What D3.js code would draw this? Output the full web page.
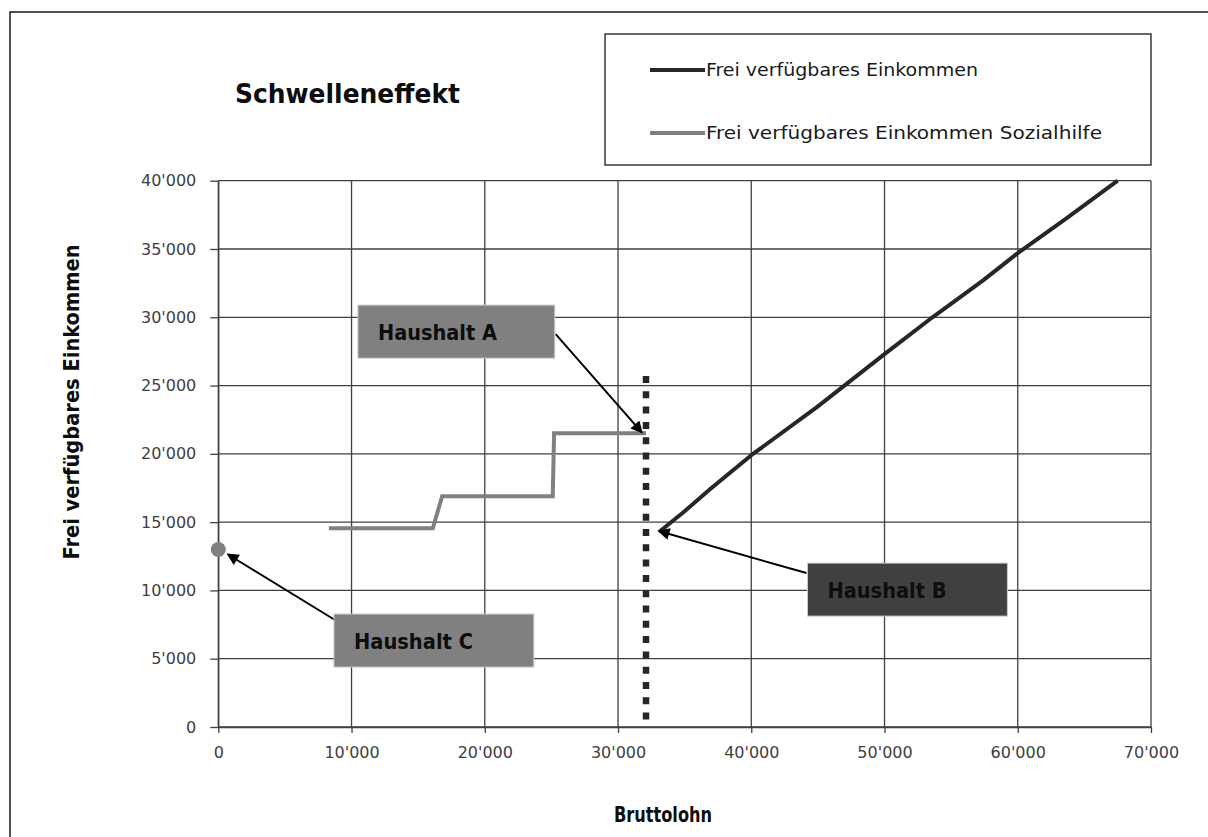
<!DOCTYPE html>
<html>
<head>
<meta charset="utf-8">
<script src="https://cdn.jsdelivr.net/npm/d3@7"></script>
<style>
    body { margin: 0; background: #fff; }
    text { font-family: "DejaVu Sans Condensed", "DejaVu Sans", sans-serif; }
</style>
</head>
<body>
<svg id="Chart"></svg>
<script>
// Bruttolohn / frei verfuegbares Einkommen (Sozialhilfe)
let socialX = [8300, 16100, 16800, 25100, 25200, 32100];
let socialY = [14550, 14550, 16900, 16900, 21500, 21500];

// Bruttolohn / frei verfuegbares Einkommen
let incomeX = [33100, 35000, 36900, 40000, 44900, 50000, 53600, 57400, 60000, 63600, 67500];
let incomeY = [14300, 15800, 17400, 19900, 23400, 27300, 30000, 32700, 34700, 37200, 40000];

let thresholdX = 32100;
let thresholdTop = 25700;
let householdC = { x: 0, y: 13000 };

let xTicks = [0, 10000, 20000, 30000, 40000, 50000, 60000, 70000];
let yTicks = [0, 5000, 10000, 15000, 20000, 25000, 30000, 35000, 40000];

let legendLabels = ["Frei verfügbares Einkommen", "Frei verfügbares Einkommen Sozialhilfe"];
let legendColors = ["#262626", "#808080"];

function getConfig() {
    let width = 1208;
    let height = 837;
    let margin = { top: 180.7, bottom: 110, left: 218.3, right: 57 };
    let bodyWidth = width - margin.left - margin.right;
    let bodyHeight = height - margin.top - margin.bottom;
    let container = d3.select("#Chart")
        .attr("width", width)
        .attr("height", height);
    return { width, height, margin, bodyWidth, bodyHeight, container };
}

function getScales(config) {
    let { margin, width, height } = config;
    let xScale = d3.scaleLinear()
        .domain([0, 70000])
        .range([margin.left, width - margin.right]);
    let yScale = d3.scaleLinear()
        .domain([0, 40000])
        .range([height - margin.bottom, margin.top]);
    return { xScale, yScale };
}

let fmt = v => d3.format(",")(v).replace(/,/g, "'");

function drawFrame(config) {
    config.container.append("rect")
        .attr("x", 10).attr("y", 12)
        .attr("width", 1400).attr("height", 1000)
        .attr("fill", "#fff")
        .attr("stroke", "#1a1a1a")
        .attr("stroke-width", 1.5);
}

function drawGrid(scales, config) {
    let { xScale, yScale } = scales;
    let { container } = config;
    let grid = container.append("g");
    grid.selectAll(".hgrid").data(yTicks).enter().append("line")
        .attr("x1", xScale(0)).attr("x2", xScale(70000))
        .attr("y1", d => yScale(d)).attr("y2", d => yScale(d))
        .attr("stroke", "#404040").attr("stroke-width", 1.3);
    grid.selectAll(".vgrid").data(xTicks).enter().append("line")
        .attr("y1", yScale(0)).attr("y2", yScale(40000))
        .attr("x1", d => xScale(d)).attr("x2", d => xScale(d))
        .attr("stroke", "#404040").attr("stroke-width", 1.3);
}

function drawAxes(scales, config) {
    let { xScale, yScale } = scales;
    let { container } = config;

    let axisX = d3.axisBottom(xScale)
        .tickValues(xTicks)
        .tickFormat(fmt)
        .tickSizeInner(6)
        .tickSizeOuter(0)
        .tickPadding(14);
    let gx = container.append("g")
        .attr("transform", `translate(0,${yScale(0)})`)
        .call(axisX);

    let axisY = d3.axisLeft(yScale)
        .tickValues(yTicks)
        .tickFormat(fmt)
        .tickSizeInner(8)
        .tickSizeOuter(0)
        .tickPadding(14);
    let gy = container.append("g")
        .attr("transform", `translate(${xScale(0)},0)`)
        .call(axisY);

    [gx, gy].forEach(g => {
        g.select(".domain").attr("stroke", "#404040").attr("stroke-width", 1.3);
        g.selectAll(".tick line").attr("stroke", "#404040").attr("stroke-width", 1.3);
        g.selectAll(".tick text")
            .attr("fill", "#404040")
            .style("font-family", "'DejaVu Sans', sans-serif")
            .style("font-size", "16px");
    });
}

function drawSeries(scales, config) {
    let { xScale, yScale } = scales;
    let { container } = config;
    let line = d3.line().x(d => xScale(d[0])).y(d => yScale(d[1]));

    // Schwelle
    container.append("line")
        .attr("x1", xScale(thresholdX)).attr("x2", xScale(thresholdX))
        .attr("y1", yScale(thresholdTop)).attr("y2", yScale(0))
        .attr("stroke", "#262626")
        .attr("stroke-width", 6.5)
        .attr("stroke-dasharray", "7,8.3");

    container.append("path")
        .datum(d3.zip(socialX, socialY))
        .attr("d", line)
        .attr("fill", "none")
        .attr("stroke", "#808080")
        .attr("stroke-width", 4);

    container.append("path")
        .datum(d3.zip(incomeX, incomeY))
        .attr("d", line)
        .attr("fill", "none")
        .attr("stroke", "#262626")
        .attr("stroke-width", 4)
        .attr("stroke-linejoin", "round");

    container.append("circle")
        .attr("cx", xScale(householdC.x))
        .attr("cy", yScale(householdC.y))
        .attr("r", 7.5)
        .attr("fill", "#808080");
}

function drawAnnotations(scales, config) {
    let { xScale, yScale } = scales;
    let { container } = config;

    container.append("defs").append("marker")
        .attr("id", "arrow")
        .attr("viewBox", "0 0 10 10")
        .attr("refX", 9).attr("refY", 5)
        .attr("markerWidth", 7).attr("markerHeight", 6)
        .attr("markerUnits", "strokeWidth")
        .attr("orient", "auto")
        .append("path")
        .attr("d", "M0,0 L10,5 L0,10 z")
        .attr("fill", "#000");

    let notes = [
        { label: "Haushalt A", x0: 10480, x1: 25250, y0: 30890, y1: 27010, fill: "#808080",
          from: [25320, 28770], to: [31800, 21550] },
        { label: "Haushalt B", x0: 44220, x1: 59220, y0: 12000, y1: 8120, fill: "#404040",
          from: [44140, 11270], to: [33050, 14350] },
        { label: "Haushalt C", x0: 8680, x1: 23680, y0: 8270, y1: 4390, fill: "#808080",
          from: [8880, 7760], to: [700, 12650] }
    ];

    notes.forEach(n => {
        container.append("line")
            .attr("x1", xScale(n.from[0])).attr("y1", yScale(n.from[1]))
            .attr("x2", xScale(n.to[0])).attr("y2", yScale(n.to[1]))
            .attr("stroke", "#000")
            .attr("stroke-width", 2)
            .attr("marker-end", "url(#arrow)");
    });

    notes.forEach(n => {
        container.append("rect")
            .attr("x", xScale(n.x0))
            .attr("y", yScale(n.y0))
            .attr("width", xScale(n.x1) - xScale(n.x0))
            .attr("height", yScale(n.y1) - yScale(n.y0))
            .attr("fill", n.fill)
            .attr("stroke", "#c8c8c8")
            .attr("stroke-width", 1);
        container.append("text")
            .attr("x", xScale(n.x0) + 20)
            .attr("y", (yScale(n.y0) + yScale(n.y1)) / 2 + 8)
            .attr("textLength", 119)
            .attr("lengthAdjust", "spacingAndGlyphs")
            .style("font-weight", "bold")
            .style("font-size", "21px")
            .attr("fill", "#0d0d0d")
            .text(n.label);
    });
}

function drawLegend(config) {
    let { container } = config;
    let legend = container.append("g");
    legend.append("rect")
        .attr("x", 605).attr("y", 34)
        .attr("width", 546).attr("height", 131)
        .attr("fill", "#fff")
        .attr("stroke", "#1a1a1a")
        .attr("stroke-width", 1.3);

    let rows = legend.selectAll(".row").data(legendLabels).enter().append("g")
        .attr("transform", (d, i) => `translate(650,${70 + i * 63})`);
    rows.append("line")
        .attr("x1", 0).attr("x2", 55)
        .attr("stroke", (d, i) => legendColors[i])
        .attr("stroke-width", 4);
    rows.append("text")
        .attr("x", 56).attr("y", 6)
        .attr("textLength", (d, i) => i === 0 ? 272 : 396)
        .attr("lengthAdjust", "spacingAndGlyphs")
        .style("font-size", "18px")
        .attr("fill", "#1a1a1a")
        .text(d => d);
}

function drawTitles(config) {
    let { container } = config;
    container.append("text")
        .attr("x", 235).attr("y", 103)
        .attr("textLength", 225)
        .attr("lengthAdjust", "spacingAndGlyphs")
        .style("font-weight", "bold")
        .style("font-size", "26px")
        .attr("fill", "#0d0d0d")
        .text("Schwelleneffekt");

    container.append("text")
        .attr("transform", "translate(79,402) rotate(-90)")
        .attr("text-anchor", "middle")
        .attr("textLength", 315)
        .attr("lengthAdjust", "spacingAndGlyphs")
        .style("font-weight", "bold")
        .style("font-size", "21px")
        .attr("fill", "#0d0d0d")
        .text("Frei verfügbares Einkommen");

    container.append("text")
        .attr("x", 614).attr("y", 822)
        .attr("textLength", 98)
        .attr("lengthAdjust", "spacingAndGlyphs")
        .style("font-weight", "bold")
        .style("font-size", "21px")
        .attr("fill", "#0d0d0d")
        .text("Bruttolohn");
}

function showChart() {
    let config = getConfig();
    let scales = getScales(config);
    drawFrame(config);
    drawGrid(scales, config);
    drawAxes(scales, config);
    drawSeries(scales, config);
    drawAnnotations(scales, config);
    drawLegend(config);
    drawTitles(config);
}

showChart();
</script>
</body>
</html>
